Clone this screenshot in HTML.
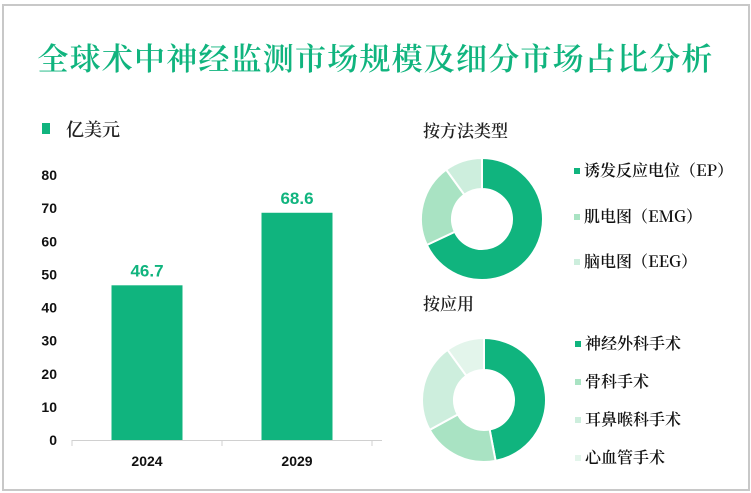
<!DOCTYPE html>
<html><head><meta charset="utf-8">
<style>
body{margin:0;width:751px;height:493px;background:#fff;font-family:"Liberation Sans","Noto Sans CJK SC",sans-serif;overflow:hidden}
#frame{position:absolute;left:2px;top:4px;width:744px;height:483px;border:2px solid #c8c8c8}
#title{position:absolute;left:0;width:751px;top:34px;text-align:center;font-family:"Noto Serif CJK SC","Noto Sans CJK SC",serif;font-size:31px;color:#10b47e;letter-spacing:1.2px;font-weight:600}
svg{position:absolute;left:0;top:0}
</style></head><body>
<div id="frame"></div>
<div id="title">全球术中神经监测市场规模及细分市场占比分析</div>
<svg id="s" width="751" height="493"></svg>
<script>
const years=["2024","2029"];
const values=[46.7,68.6];
const yTicks=[0,10,20,30,40,50,60,70,80];
const methodLabels=["诱发反应电位（EP）","肌电图（EMG）","脑电图（EEG）"];
const methodShares=[68,22,10];
const appLabels=["神经外科手术","骨科手术","耳鼻喉科手术","心血管手术"];
const appShares=[47,20,23,10];
const methodColors=["#10b47e","#a9e3c3","#cdeedd"];
const appColors=["#10b47e","#a9e3c3","#cdeedd","#e3f5eb"];
const NS="http://www.w3.org/2000/svg";
const svg=document.getElementById('s');
function mk(t,a,txt){const e=document.createElementNS(NS,t);for(const k in a)e.setAttribute(k,a[k]);if(txt!==undefined)e.textContent=txt;svg.appendChild(e);return e;}
const y0=440,pxPer=265/80,xL=72,band=150;
const yS=v=>y0-v*pxPer;
let e=mk('rect',{x:42,y:123,width:8,height:11,fill:'#10b47e'});

e=mk('text',{x:66,y:136,'font-size':18,'font-weight':600,fill:'#222','font-family':'"Noto Serif CJK SC",serif'},'亿美元');

yTicks.forEach(t=>{const el=mk('text',{x:57,y:yS(t)+5,'text-anchor':'end','font-size':14,'font-weight':'bold',fill:'#111'},t);
});
e=mk('line',{x1:xL,y1:y0+0.5,x2:xL+2*band+10,y2:y0+0.5,stroke:'#d0d0d0','stroke-width':1});

[0,1,2].forEach(i=>{const l=mk('line',{x1:xL+i*band,y1:y0,x2:xL+i*band,y2:y0+6,stroke:'#d0d0d0'});
});
years.forEach((yr,i)=>{const cx=xL+band*(i+0.5),w=71,v=values[i];
const b=mk('rect',{x:cx-w/2,y:yS(v),width:w,height:y0-yS(v),fill:'#10b47e'});

const t=mk('text',{x:cx,y:yS(v)-9,'text-anchor':'middle','font-size':17,'font-weight':'bold',fill:'#10b47e'},v.toFixed(1));

const x=mk('text',{x:cx,y:466,'text-anchor':'middle','font-size':14,'font-weight':'bold',fill:'#111'},yr);
});
function donut(cx,cy,R,r,shares,colors,name){const tot=shares.reduce((a,b)=>a+b,0);let a=0;
shares.forEach((s,i)=>{const a1=a,a2=a+s/tot*2*Math.PI;a=a2;
const p=(ang,rad)=>[cx+rad*Math.sin(ang),cy-rad*Math.cos(ang)];
const [x1,y1]=p(a1,R),[x2,y2]=p(a2,R),[x3,y3]=p(a2,r),[x4,y4]=p(a1,r);const lg=a2-a1>Math.PI?1:0;
const el=mk('path',{d:`M${x1},${y1}A${R},${R} 0 ${lg} 1 ${x2},${y2}L${x3},${y3}A${r},${r} 0 ${lg} 0 ${x4},${y4}Z`,fill:colors[i],stroke:'#fff','stroke-width':2});
});}
function legend(x,ys,labels,colors,name){labels.forEach((l,i)=>{
const sq=mk('rect',{x:x,y:ys[i]-8,width:6,height:6,fill:colors[i]});

const t=mk('text',{x:x+10,y:ys[i],'font-size':16,'font-weight':600,fill:'#111','font-family':'"Noto Serif CJK SC",serif'},l);
});}
e=mk('text',{x:423,y:137,'font-size':17,'font-weight':600,fill:'#222','font-family':'"Noto Serif CJK SC",serif'},'按方法类型');

donut(482,219,61,30,methodShares,methodColors,'method');
legend(574,[176,222,267],methodLabels,methodColors,'method');
e=mk('text',{x:423,y:310,'font-size':17,'font-weight':600,fill:'#222','font-family':'"Noto Serif CJK SC",serif'},'按应用');

donut(484,400,62,30,appShares,appColors,'application');
legend(575,[349,387,425,463],appLabels,appColors,'application');
</script>
</body></html>
